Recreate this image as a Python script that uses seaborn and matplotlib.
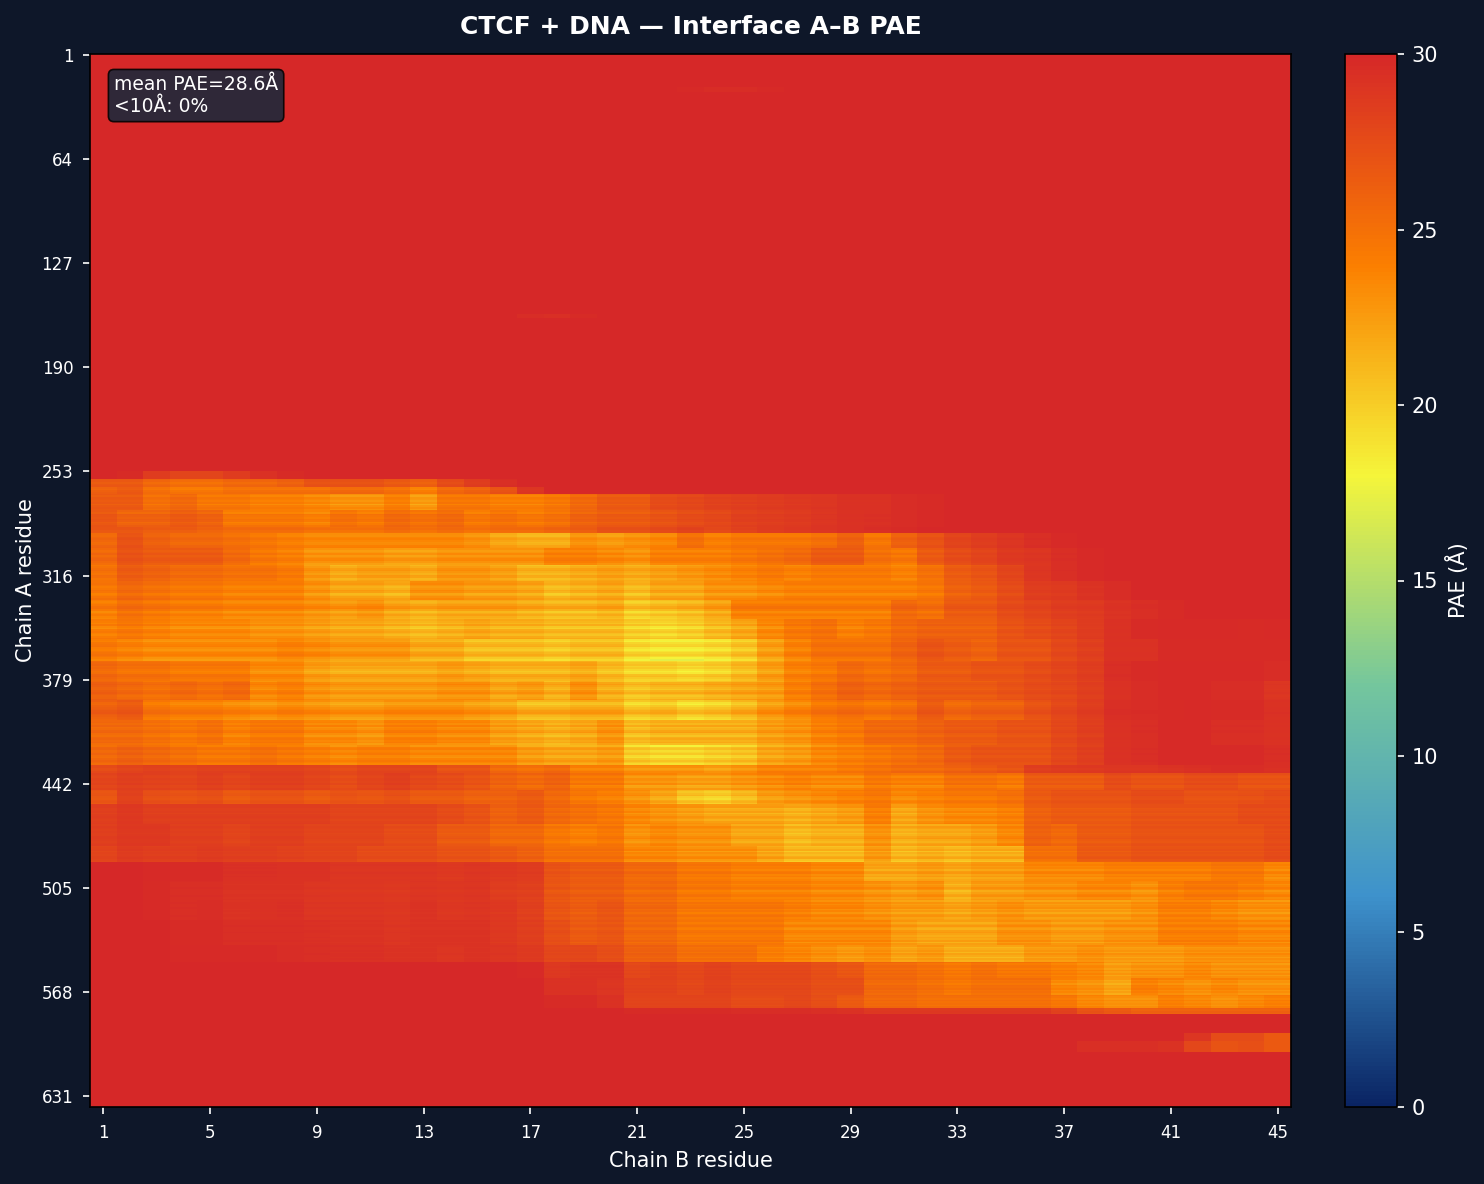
import matplotlib
matplotlib.use('Agg')
import matplotlib.pyplot as plt
import numpy as np
import seaborn as sns
from matplotlib.colors import LinearSegmentedColormap
from matplotlib.transforms import ScaledTranslation

BG = '#0e1729'
N_ROWS = 637
N_COLS = 45

title = 'CTCF + DNA — Interface A–B PAE'
note = 'mean PAE=28.6Å\n<10Å: 0%'
chain_a_ticks = [1, 64, 127, 190, 253, 316, 379, 442, 505, 568, 631]
chain_b_ticks = [1, 5, 9, 13, 17, 21, 25, 29, 33, 37, 41, 45]
cmap_colors = ['#0a2463', '#3e92cc', '#74c69d', '#f5f53a', '#fb7f00', '#d62828']

# first row of each band of chain A
band_starts = [0, 20, 23, 157, 160, 252, 257, 262, 266, 276, 286, 290, 299, 309, 319,
               330, 342, 354, 367, 379, 391, 403, 418, 430, 435, 445, 454, 466, 479,
               489, 500, 512, 524, 539, 549, 559, 569, 577, 581, 592, 597, 604]

# PAE per chain B residue in each band, rows stop where the rest is 30
band_values = [
    [30],
    [30] * 22 + [29.8, 29.6, 29.6, 29.8],
    [30],
    [30] * 16 + [29.6, 29.5, 29.7],
    [30],
    [30, 29.7, 28.5, 28, 28, 28.5, 29.3, 29.7],
    [26.5, 26.5, 25.5, 25, 25, 25.5, 25.5, 26, 27, 27, 27, 26.5, 26, 27.5, 28.5, 29.5],
    [26, 26.5, 25, 24.5, 24.5, 25, 25, 25, 25, 25.5, 25.5, 25, 24, 25.5, 26, 27, 29],
    [26.5, 26.5, 25, 25.5, 24.5, 24.5, 24, 24, 23.5, 23, 23, 24, 22.5, 24.5, 24.5, 24, 24, 24.5, 25.5, 26.5, 26.5, 27.5, 27.8, 28.2, 28.4, 28.6, 28.8, 29, 29.3, 29.3, 29.6, 29.7, 29.9],
    [26.8, 26, 26, 26.5, 26, 24.5, 24.5, 24.5, 24, 25, 24.5, 25.5, 25, 25.5, 24.5, 25, 24.5, 25, 26, 26.5, 26.5, 27, 27.5, 27.8, 28.3, 28.5, 28.7, 29, 29.3, 29.4, 29.6, 29.8],
    [26.5, 26.5, 26, 26, 25.5, 25, 25, 25, 24.5, 24.5, 24.5, 25, 24.5, 25, 24.5, 25, 25, 25.5, 26, 27, 27, 27.5, 28, 27.5, 28, 28.5, 28.7, 29, 29.3, 29.5, 29.7],
    [25.5, 27, 26, 25.5, 25.5, 25, 24.5, 24, 23.5, 23.5, 23.5, 23.5, 23.5, 23.5, 23, 22, 21.5, 21.5, 23, 22.5, 23, 23.5, 25, 24, 24.5, 24.5, 24.5, 25, 26, 24.5, 26, 27, 28, 28.5, 29, 29.5, 29.8],
    [25.5, 27, 26.5, 26.5, 26.5, 25.5, 24.5, 24, 23, 23, 23, 22.5, 22.5, 23, 23, 23, 23, 24, 24, 23.5, 23, 24, 24, 24, 24.5, 25, 25.5, 26.5, 26.5, 25, 24.5, 26.5, 27.5, 28, 28.8, 29, 29.5, 29.8],
    [25, 26.5, 26, 25.5, 25.5, 25, 25, 24.5, 23, 22, 22.5, 22.5, 22, 23, 23, 22.5, 21.5, 21.5, 22, 22.5, 22, 22.5, 23, 23.5, 24, 24.5, 24, 24.5, 24.5, 24.5, 24, 25, 26.5, 27, 28, 29, 29.5, 29.8],
    [24.5, 25.5, 25, 24.5, 24.5, 24, 24, 24, 23, 22, 22, 21.5, 23, 23, 22.5, 22.5, 22, 21, 21.5, 22, 21, 22, 22, 23, 23, 23.5, 24, 24, 24, 24, 24, 24.5, 26, 26.5, 27.5, 28.5, 28.7, 29.2, 29.6],
    [24, 25, 24.5, 24, 24, 23.5, 23.5, 23.5, 23, 22.5, 23, 22, 21.5, 22, 22, 22, 21.5, 21, 21, 21.5, 20, 20.5, 21, 22, 24, 24, 24, 24, 24, 24, 25.5, 25, 26.5, 26.5, 27.5, 28, 28.5, 28.7, 29.2, 29.5, 29.7],
    [24, 24.5, 24, 23.5, 23.5, 23.5, 23, 23, 22.5, 22, 22, 21.5, 21, 21.5, 22, 21.5, 21.5, 21, 21, 21, 20, 19.5, 20, 21, 22, 23.5, 24.5, 25, 24, 24.5, 25.5, 26, 26, 26, 27, 27.5, 28, 28.6, 29.3, 29.7, 29.8, 29.8, 29.8, 29.7, 29.8],
    [24.5, 24, 23.5, 23.5, 23.5, 23.5, 23.5, 24, 23.5, 23, 23, 23, 22, 22, 21, 21, 21, 20.5, 21, 21, 19.5, 19, 19, 19.5, 20.5, 22.5, 24, 25, 25, 25, 26, 27, 26.5, 26, 27, 27, 27.8, 28.4, 29.3, 29.3, 29.7, 29.7, 29.7, 29.7, 29.7],
    [25.5, 25, 25, 24.5, 24.5, 24.5, 23.5, 23.5, 22.5, 22, 22, 22, 22, 22.5, 22, 21.5, 21.5, 21.5, 22, 21, 20, 20, 19.5, 20, 21, 22.5, 24, 24.5, 25.5, 25, 25.5, 26.5, 26.5, 27, 27, 27.5, 28, 28.5, 29.5, 29.7, 29.8, 29.8, 29.8, 29.8, 29.6],
    [26, 25.5, 25, 25.5, 25, 25.5, 23.5, 24, 23, 22.5, 22.5, 22.5, 22.5, 23, 23, 22, 22.5, 21.5, 23, 21.5, 20.5, 21, 21, 21.5, 22, 22.5, 24, 25, 26, 25.5, 26, 26.5, 26.5, 26.5, 27, 27.5, 27.8, 28.4, 29.3, 29.6, 29.8, 29.8, 29.6, 29.6, 29],
    [26, 26.5, 24.5, 24, 24, 23.5, 23, 23.5, 23, 22.5, 22.5, 23, 23, 23, 22.5, 22, 21, 21, 21.5, 21.5, 20, 20.5, 19.5, 20, 21, 22.5, 23.5, 24.5, 25, 24.5, 25, 26.5, 25.5, 26, 26, 27, 27.8, 28.5, 29.5, 29.6, 29.7, 29.8, 29.7, 29.7, 29.3],
    [25.5, 25.5, 25, 24.5, 25, 24, 24.5, 24.5, 23.5, 23.5, 23, 24, 24, 23.5, 23.5, 22.5, 22, 21.5, 22, 23, 21, 21.5, 21.5, 21.5, 21.5, 22.5, 23, 24, 24.5, 25.5, 25.5, 26, 26.5, 26.5, 27, 27, 27.8, 28.4, 29.3, 29.5, 29.8, 29.8, 29.5, 29.5, 29.3],
    [25.5, 26, 25.5, 25, 24.5, 24.5, 25, 24.5, 24, 23.5, 24, 24, 23.5, 23.5, 23.5, 23.5, 22.5, 22, 22, 22.5, 20, 19.5, 19.5, 20, 20.5, 22, 22.5, 23.5, 24, 24.5, 25, 25.5, 26.5, 27, 27, 27, 27.8, 28.4, 29.3, 29.5, 29.8, 29.8, 29.8, 29.8, 29.5],
    [27.5, 28, 28.3, 28, 28.3, 28.3, 28.3, 28.3, 28, 27.5, 28, 28, 28, 27, 27, 25.5, 25, 25.5, 24, 24, 23, 23, 23, 22.5, 23, 24, 24, 24, 24.5, 25, 25.5, 25.5, 26, 26.5, 27, 28.5, 28.7, 28.8, 29, 29, 29.2, 29.4, 29.6, 29.6, 29.4],
    [28, 28.4, 28.2, 28, 28.4, 28, 28.4, 28.4, 28, 27.5, 28, 28.4, 27.8, 27.5, 27, 26, 25.5, 26, 24.5, 24.5, 23, 23, 22.5, 22.5, 23, 23.5, 24, 23.5, 23.5, 24.5, 24, 24, 25, 25, 24.5, 26.5, 26.5, 26.5, 27.5, 27, 27, 27.5, 27.5, 27, 27],
    [26.8, 28.2, 27.3, 27, 27.3, 26.5, 27, 27, 26.5, 27, 26.8, 27.2, 26.5, 26.5, 26, 26, 26.5, 25.5, 24.5, 24, 23, 22, 20.5, 20, 21, 22.5, 23, 23.5, 24, 24.5, 23.5, 24, 24.5, 24.5, 25, 26.5, 27, 27, 27, 27.5, 27.5, 27, 27, 27.2, 27.5],
    [28.4, 28.8, 28.4, 28.4, 28.4, 28.4, 28.4, 28.4, 28.4, 28, 28, 28, 28, 27.5, 27, 26, 26.5, 25.5, 25, 24.5, 23.5, 23, 22.5, 22, 22, 22, 21.5, 22, 22.5, 24, 22, 23, 23.5, 23.5, 24, 26, 26.5, 26.5, 26.5, 27, 27, 27, 27, 27.5, 27.5],
    [28.4, 28.8, 28.8, 28.4, 28.4, 28, 28.4, 28.4, 28, 28, 28, 27.5, 27.5, 26.5, 26.5, 25.5, 25.5, 24.5, 24, 24.5, 23, 23.5, 23, 23, 22, 22, 21, 21.5, 21.5, 23, 21.5, 22, 22, 22.5, 23.5, 26, 25.5, 26.5, 26.5, 27, 27, 27, 27, 27, 27.5],
    [28, 28.6, 28.4, 28.4, 28.6, 28.4, 28.4, 28.2, 28, 28, 27.5, 27.5, 27.5, 27, 27, 26.5, 26, 25, 25, 25, 23.5, 23.5, 23, 23, 23, 22, 21, 21, 21, 22.5, 21, 21.5, 21, 21.5, 21.5, 25, 25, 26.5, 26.5, 27, 27, 27, 27, 27, 27.5],
    [30, 30, 29.8, 29.7, 29.7, 29.4, 29.4, 29.3, 29.3, 29, 29, 29, 29, 28.8, 29, 28.8, 28.6, 27, 26.5, 26.5, 25.5, 25.5, 24.5, 24.5, 24, 24, 24, 23.5, 23.5, 22, 22, 22.5, 22, 22.5, 22.5, 23.5, 23.5, 23.5, 24, 24, 24, 24, 24.5, 24.5, 23.5],
    [30, 30, 29.7, 29.5, 29.5, 29.2, 29.2, 29.2, 29, 28.9, 28.9, 28.8, 29, 28.9, 29, 28.5, 28.3, 26.8, 26.3, 26.3, 25.3, 25.5, 24.5, 24.5, 24, 24, 24, 23.5, 23.5, 23, 22.5, 23, 21.5, 22.5, 22.5, 23, 23, 23.5, 23.5, 23, 24, 24.5, 24.5, 24, 23.5],
    [30, 30, 29.8, 29.5, 29.6, 29.2, 29.3, 29.4, 29, 29, 29, 28.9, 29.2, 28.9, 29, 28.8, 28.3, 26.8, 26.3, 26.8, 25.5, 25.5, 24.5, 24.5, 24.5, 24.5, 24, 23.5, 23.5, 23, 22.5, 22.5, 22, 22.5, 23, 22.5, 22.5, 22.5, 22.5, 23, 24, 24, 23.5, 23, 23],
    [30, 30, 30, 29.7, 29.7, 29.5, 29.5, 29.5, 29.4, 29.2, 29.2, 29, 29.2, 29.2, 29.2, 28.8, 28.4, 27.3, 26.5, 26.8, 25.5, 25.5, 24.5, 24.5, 24.5, 24.5, 23.5, 23.5, 23.5, 23.5, 22.5, 22, 22, 22, 23, 23, 22.5, 22.5, 23, 23, 24, 24, 24, 23.5, 23.5],
    [30, 30, 30, 29.8, 29.8, 29.8, 29.8, 29.6, 29.5, 29.4, 29.4, 29.2, 29.2, 29, 29.2, 29, 28.7, 27.8, 27.8, 27.3, 26, 26, 25, 25, 25, 24, 23.5, 23, 22.5, 23, 22, 22.5, 21.5, 21.5, 21.5, 22.5, 22.5, 23, 22.5, 22.5, 22.5, 23, 23, 23, 23],
    [30] * 16 + [29.8, 28.8, 29.2, 29.2, 27.8, 28.2, 27.8, 28.2, 27.8, 27.8, 27.8, 27.3, 26.8, 25.5, 25.5, 25, 24.5, 25, 24.5, 24.5, 24, 23.5, 22.5, 23, 23, 23.5, 23, 23, 23],
    [30] * 17 + [29.3, 29.3, 29, 28.2, 28.2, 27.8, 28.2, 27.8, 27.8, 27.8, 27.3, 27.3, 25.5, 25.5, 25, 24.5, 25, 25, 25, 23.5, 23, 22, 24, 23.5, 23, 23.5, 23, 23],
    [30] * 17 + [29.7, 29.7, 29.3, 28, 28, 28, 28, 27.5, 27.5, 27.8, 27.3, 26.5, 25.5, 25.5, 25, 25, 25, 25, 25, 24.5, 23.5, 23, 23, 24, 23.5, 23, 23.5, 24],
    [30] * 20 + [29.7, 29.7, 29.7, 29.7, 29.6, 29.6, 29.6, 29.5, 29.3, 28.8, 28.8, 28.8, 28.8, 28.8, 28.8, 28.8, 28.2, 27, 26.5, 26, 26, 26, 26, 26, 26],
    [30],
    [30] * 41 + [29, 27.5, 27.5, 26.5],
    [30] * 37 + [29.5, 29.5, 29.5, 29.2, 27.8, 27, 27.3, 26.5],
]

# thin stripes per row from row 257 on, + is redder, - is yellower
row_streaks = [
    1.0, 0.6, -0.5, 0.4, 0.8, -0.6, -1.0, 0.2, 0.7, 0.3,
    -0.8, 0.5, 0.2, -0.3, 0.6, -1.2, 0.3, 0.9, 0.1, -0.6,
    -1.6, 0.7, 0.4, -0.2, 0.8, 0.5, -1.3, -0.4, 0.9, 1.1,
    1.4, 0.6, 0.2, -0.4, -0.7, 0.3, 0.8, 0.2, -0.5, -0.2,
    0.7, 1.0, 0.1, -0.9, -0.3, 0.8, -0.6, 0.2, 0.9, 1.2,
    0.1, -1.0, -1.3, -0.6, 0.4, 0.7, -0.2, -0.8, 0.5, 0.3,
    -1.1, -0.5, 0.6, 0.9, 0.0, -0.7, -0.2, 0.9, 0.4, -1.4,
    -0.9, 0.3, 1.0, 0.2, -0.5, -0.1, 0.8, 1.6, 1.9, 0.5,
    -1.2, -0.3, 0.5, -0.6, -1.0, 0.6, 0.2, -0.4, 0.7, -0.9,
    -1.5, 0.3, 0.8, -0.2, -0.7, 0.4, 1.1, -0.8, -1.3, 0.1,
    0.6, 0.9, -0.5, -1.1, -0.2, 0.5, 1.0, 0.3, -0.9, -1.8,
    -0.6, 0.4, 0.8, -0.3, 0.2, -0.7, -1.6, -1.0, 0.7, 1.1,
    0.3, -0.4, -1.2, 0.6, 1.3, 0.4, -0.3, -0.9, 0.5, 1.2,
    0.1, -0.8, -0.3, 0.9, 0.4, -1.0, -1.4, -0.2, 0.6, 1.0,
    1.7, 2.0, 1.0, 0.2, -0.6, -1.1, 0.3, 0.5, -0.4, 0.9,
    -0.8, -0.2, 0.7, 1.2, -0.5, -1.3, 0.2, 0.6, -0.1, 0.5,
    -0.9, -1.4, 0.5, 0.9, -0.3, 0.1, 0.8, -0.7, -1.0, 0.4,
    1.1, 0.2, -0.6, 0.6, 0.3, -1.1, -0.4, 0.7, 1.3, 0.0,
    -0.9, 0.5, 0.2, -0.5, 0.8, -1.7, -1.2, 0.3, 0.7, -0.2,
    0.4, 0.9, -0.6, -1.0, 0.2, 0.6, -0.3, 0.8, 1.0, -0.8,
    -0.4, 0.5, -1.1, -0.2, 0.7, 0.3, -0.7, 0.4, 0.9, -0.5,
    1.0, 0.5, -0.4, 0.2, -0.9, -0.3, 0.6, 1.1, -0.2, -0.8,
    0.3, 0.7, -0.6, 0.1, 0.9, -1.0, 0.4, -0.3, 0.8, 1.2,
    -0.5, -1.2, 0.2, 0.7, -0.1, 0.4, -0.8, 0.6, 1.0, -0.4,
    0.3, -0.9, -0.2, 0.8, 0.5, -0.7, 0.1, 1.1, 0.4, -1.1,
    -0.3, 0.6, 0.9, -0.5, 0.2, -0.8, 0.7, -0.2, 0.5, 1.0,
    -0.6, 0.3, -1.0, 0.4, 0.8, -0.4, 0.1, 0.6, -0.7, 0.2,
    0.9, -0.3, -0.8, 0.5, 1.0, 0.2, -0.6, 0.3, -0.2, 0.7,
    -0.9, 0.4, 0.8, -0.5, 0.1, 0.6, -0.4, 0.9, 0.3, -0.7,
    0.5, -0.2, 0.7, -0.8, 0.2, 0.4, -0.5, 0.8, -0.3, 0.6,
    -0.7, 0.3, 0.9, -0.4, 0.1, -0.9, 0.5, 0.2, 0.7, -0.3,
    0.4, -0.6, 0.8, 0.2, -0.5, 0.6, -0.2, 0.3, -0.4, 0.5,
    0.2, -0.3, 0.4, -0.2, 0.3, 0.1, -0.2, 0.2, 0.0, 0.1,
    0.0, 0.1, 0.0, 0.0, 0.1, 0.0, 0.0, 0.0,
]

# build the matrix from the bands
pae = np.full((N_ROWS, N_COLS), 30.0)
ends = band_starts[1:] + [N_ROWS]
for start, end, vals in zip(band_starts, ends, band_values):
    full = (vals + [30] * N_COLS)[:N_COLS]
    pae[start:end] = full
for i, s in enumerate(row_streaks):
    # stripes fade out towards the red part
    pae[257 + i] = np.minimum(30, pae[257 + i] + s * (30 - pae[257 + i]) / 11)

cmap = LinearSegmentedColormap.from_list('pae', cmap_colors)

sns.set_style('white')
fig = plt.figure(figsize=(14.84 / 1.5, 11.84 / 1.5), dpi=150, facecolor=BG)
W, H = 1484, 1184
ax = fig.add_axes([90 / W, 1 - 1107 / H, 1201 / W, 1053 / H])
cax = fig.add_axes([1345 / W, 1 - 1107 / H, 52 / W, 1053 / H])

sns.heatmap(pae, ax=ax, cbar_ax=cax, cmap=cmap, vmin=0, vmax=30,
            cbar_kws={'label': 'PAE (Å)'}, rasterized=True)

ax.set_facecolor(BG)
ax.set_xticks([t - 0.5 for t in chain_b_ticks])
ax.set_xticklabels(chain_b_ticks, rotation=0)
ax.set_yticks([t - 0.5 for t in chain_a_ticks])
ax.set_yticklabels(chain_a_ticks, rotation=0)
ax.tick_params(axis='both', colors='white', labelsize=8, length=3.5, width=0.8,
               bottom=True, left=True, pad=4.5)
# y labels sit a touch under their ticks in the reference
nudge = ScaledTranslation(0, -2 / 150, fig.dpi_scale_trans)
for lab in ax.get_yticklabels():
    lab.set_transform(lab.get_transform() + nudge)
ax.set_xlabel('Chain B residue', color='white', fontsize=10, labelpad=4.5)
ax.set_ylabel('Chain A residue', color='white', fontsize=10, labelpad=2.5)
ax.set_title(title, color='white', fontsize=12, fontweight='bold', pad=9.5)
for spine in ax.spines.values():
    spine.set_visible(True)
    spine.set_color('black')
    spine.set_linewidth(0.8)

cbar = ax.collections[0].colorbar
cbar.set_ticks([0, 5, 10, 15, 20, 25, 30])
cbar.ax.tick_params(colors='white', labelsize=10, length=3.5, width=0.8, right=True)
cbar.set_label('PAE (Å)', color='white', fontsize=10)
cbar.outline.set_visible(True)
cbar.outline.set_edgecolor('black')
cbar.outline.set_linewidth(0.8)

ax.text(0.02, 0.98, note, transform=ax.transAxes, color='white', fontsize=9,
        va='top', ha='left', linespacing=1.2,
        bbox=dict(boxstyle='round,pad=0.3', facecolor='#12283b', edgecolor='black',
                  linewidth=0.8, alpha=0.85))

fig.savefig('out.png', dpi=150, facecolor=BG)
